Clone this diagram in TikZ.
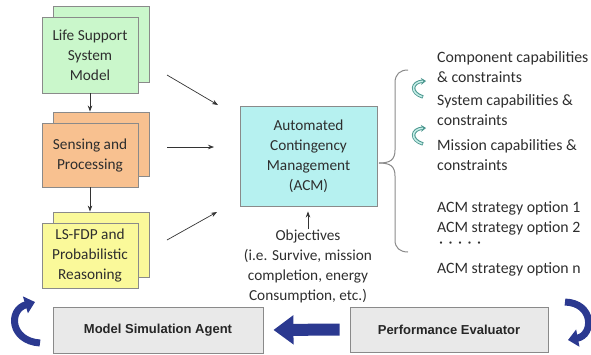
\documentclass[tikz,border=0pt]{standalone}
\usepackage{fontspec}
\setmainfont{Carlito}
\newfontfamily\arialfont{Liberation Sans}
\usetikzlibrary{positioning, arrows.meta, shadows}
\definecolor{lsgreen}{HTML}{CAF7CB}
\definecolor{sporange}{HTML}{F8C190}
\definecolor{fdpyellow}{HTML}{FAF99A}
\definecolor{acmcyan}{HTML}{B6F1F0}
\definecolor{agentgray}{HTML}{E9E9E9}
\definecolor{boxgray}{HTML}{8A8A8A}
\definecolor{loopblue}{HTML}{2B3990}
\definecolor{curlteal}{HTML}{4A968E}
\definecolor{curlpale}{HTML}{C6EEE8}
\tikzset{
  x=1pt, y=-1pt, % pixel-like units, y runs down
  txt/.style={text=black!82, font=\fontsize{15.3}{20}\selectfont}, % body text
  box/.style={txt, draw=boxgray, line width=0.9pt, align=center, inner sep=0pt}, % plain box
  stack/.style={box, minimum width=96pt, copy shadow={shadow xshift=11pt, shadow yshift=11pt}}, % box with one behind
  agent/.style={draw=boxgray, line width=0.9pt, fill=agentgray, text=black!85, font=\arialfont\bfseries\fontsize{13}{15}\selectfont}, % bottom boxes
  feed/.style={-{Stealth[length=6pt, width=4.5pt]}, line width=0.7pt, black!80}, % thin arrows
  item/.style={txt, anchor=west, align=left, inner sep=0pt, font=\fontsize{15.8}{20}\selectfont}, % right hand column
  curl/.style={-{Stealth[length=5pt, width=7pt]}, line width=3.4pt, curlteal},
  curlin/.style={line width=1.5pt, curlpale, shorten >=3pt, shorten <=0.8pt},
  loop/.style={-{Triangle[length=10pt, width=17pt]}, line width=7pt, loopblue},
}

\begin{document}
\begin{tikzpicture}
  \useasboundingbox (0,0) rectangle (591,354);

  % left column
  \node[stack, fill=lsgreen, minimum height=76pt] (lss) at (90,55) {Life Support\\System\\Model};
  \node[stack, fill=sporange, minimum height=64pt] (sp) at (90,155) {Sensing and\\Processing};
  \node[stack, fill=fdpyellow, minimum height=65pt] (fdp) at (90,255.5) {LS-FDP and\\Probabilistic\\Reasoning};

  \draw[feed] (lss.south) -- ([yshift=11pt]sp.north);
  \draw[feed] (sp.south) -- ([yshift=11pt]fdp.north);

  % centre
  \node[box, fill=acmcyan, minimum width=137pt, minimum height=100pt] (acm) at (308.5,156)
    {Automated\\Contingency\\Management\\(ACM)};
  \node[txt, align=center, inner sep=0pt] (obj) at (308,266)
    {Objectives\\(i.e. Survive, mission\\completion, energy\\Consumption, etc.)};
  \draw[feed, shorten >=5pt] (obj.north) -- (obj.north |- acm.south);

  \coordinate (in1) at (167,75);  \coordinate (out1) at (218,105);
  \coordinate (in2) at (167,147); \coordinate (out2) at (214,147);
  \coordinate (in3) at (167,240); \coordinate (out3) at (217,212);
  \draw[feed] (in1) -- (out1);
  \draw[feed] (in2) -- (out2);
  \draw[feed] (in3) -- (out3);

  % brace and right column
  \coordinate (tip) at (379,163);
  \draw[boxgray, line width=1pt]
    (tip) .. controls (390,163) and (395,160) .. (395,150) -- (395,83)
    .. controls (395,74) and (400,70) .. (408,70);
  \draw[boxgray, line width=1pt]
    (tip) .. controls (390,163) and (395,166) .. (395,176) -- (395,240)
    .. controls (395,248) and (400,252) .. (408,252);

  \node[item] (comp) at (437,67.5) {Component capabilities\\\& constraints};
  \node[item] (sys) at (437,110) {System capabilities \&\\constraints};
  \node[item] (mis) at (437,155) {Mission capabilities \&\\constraints};
  \node[item] (opt1) at (437,208) {ACM strategy option 1};
  \node[item] (opt2) at (437,228) {ACM strategy option 2};
  \node[item] (dots) at (439,245) {·\hskip5.5pt·\hskip5.5pt·\hskip5.5pt·\hskip5.5pt·};
  \node[item] (optn) at (437,269) {ACM strategy option n};

  \coordinate (c1a) at (423,97);  \coordinate (c1b) at (426,81);
  \coordinate (c2a) at (423,144); \coordinate (c2b) at (426,128);
  \draw[curl] (c1a) .. controls (410,93) and (411,82) .. (c1b);
  \draw[curlin] (c1a) .. controls (410,93) and (411,82) .. (c1b);
  \draw[curl] (c2a) .. controls (410,140) and (411,129) .. (c2b);
  \draw[curlin] (c2a) .. controls (410,140) and (411,129) .. (c2b);

  % bottom loop
  \node[agent, minimum width=210pt, minimum height=46pt] (msa) at (158,330) {Model Simulation Agent};
  \node[agent, minimum width=198pt, minimum height=45pt] (perf) at (449,329.5) {Performance Evaluator};
  \draw[-{Triangle[length=20pt, width=28pt]}, line width=12pt, loopblue, shorten <=10pt, shorten >=10pt]
    (perf.west) -- (msa.east);

  \coordinate (la) at (40,343); \coordinate (lb) at (35,302);
  \coordinate (ra) at (565,302); \coordinate (rb) at (568,340);
  \draw[loop] (la) .. controls (10,341) and (8,310) .. (lb);
  \draw[loop] (ra) .. controls (594,303) and (594,335) .. (rb);
\end{tikzpicture}
\end{document}
